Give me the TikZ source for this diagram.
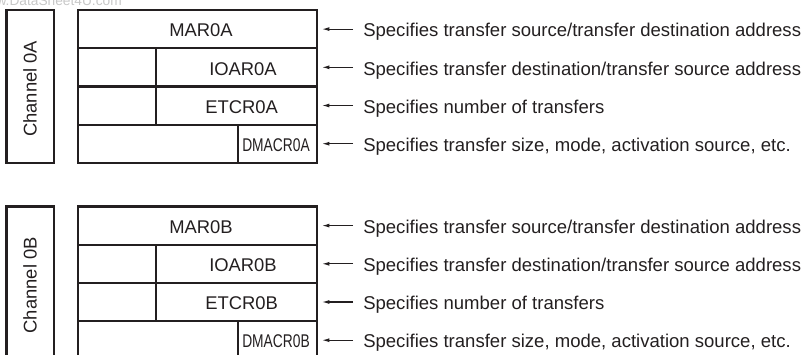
\documentclass[tikz,border=0pt]{standalone}
\usepackage{fontspec}
\setmainfont{Liberation Sans}
\usepackage{graphicx}
\usetikzlibrary{arrows.meta}
\definecolor{ink}{HTML}{231F20}
\def\u{0.75pt}
\tikzset{
  cell/.style={draw=ink, line width=1.65pt, inner sep=0pt},
  regtext/.style={anchor=base, inner sep=0pt, text=ink, font=\fontsize{13.8}{16}\selectfont},
  desc/.style={anchor=base west, inner xsep=7.5pt, inner ysep=0pt, text=ink, font=\fontsize{13.9}{16}\selectfont},
  conn/.style={draw=ink, line width=0.8pt, -{Latex[length=5.5pt,width=3pt]}, shorten >=3.2pt},
}
\newcommand\regblock[2]{%
\begin{scope}[shift={(0,#2)}]
  \node[cell, minimum width=47.5*\u, minimum height=152.8*\u] (ch#1) at (30.3,86.4) {};
  \node[regtext, rotate=90] (cht#1) at (36.5,88.8) {Channel 0#1};
  \node[cell, minimum width=238.4*\u, minimum height=38.2*\u] (mar#1) at (197.5,29.1) {};
  \node[cell, minimum width=77.4*\u, minimum height=38.2*\u] (ioarl#1) at (117,67.3) {};
  \node[cell, minimum width=161*\u, minimum height=38.2*\u] (ioar#1) at (236.2,67.3) {};
  \node[cell, minimum width=77.4*\u, minimum height=38.2*\u] (etcrl#1) at (117,105.5) {};
  \node[cell, minimum width=161*\u, minimum height=38.2*\u] (etcr#1) at (236.2,105.5) {};
  \node[cell, minimum width=159.4*\u, minimum height=38.2*\u] (dmacrl#1) at (158,143.7) {};
  \node[cell, minimum width=79*\u, minimum height=38.2*\u] (dmacr#1) at (277.2,143.7) {};
  \node[regtext] (mart#1) at (201,36.8) {MAR0#1};
  \node[regtext] (ioart#1) at (243,75) {IOAR0#1};
  \node[regtext] (etcrt#1) at (241.7,113.2) {ETCR0#1};
  \node[regtext] (dmacrt#1) at (276,151.4) {\scalebox{0.75}[1]{DMACR0#1}};
  \node[desc] (d1#1) at (353,36.8) {Specifies transfer source/transfer destination address};
  \node[desc] (d2#1) at (353,75) {Specifies transfer destination/transfer source address};
  \node[desc] (d3#1) at (353,113.2) {Specifies number of transfers};
  \node[desc] (d4#1) at (353,151.4) {Specifies transfer size, mode, activation source, etc.};
  \draw[conn] (d1#1.west |- mar#1.east) -- (mar#1.east);
  \draw[conn] (d2#1.west |- ioar#1.east) -- (ioar#1.east);
  \draw[conn] (d3#1.west |- etcr#1.east) -- (etcr#1.east);
  \draw[conn] (d4#1.west |- dmacr#1.east) -- (dmacr#1.east);
\end{scope}}
\begin{document}
\begin{tikzpicture}[x=0.75pt, y=-0.75pt]
  \useasboundingbox (0,0) rectangle (803,354);
  \clip (0,0) rectangle (803,354);
  \node[anchor=base east, inner sep=0pt, text=black!22, font=\fontsize{10.3}{12}\selectfont] (wm) at (122,5.5) {www.DataSheet4U.com};
  \regblock{A}{0}
  \regblock{B}{196.5}
\end{tikzpicture}
\end{document}
